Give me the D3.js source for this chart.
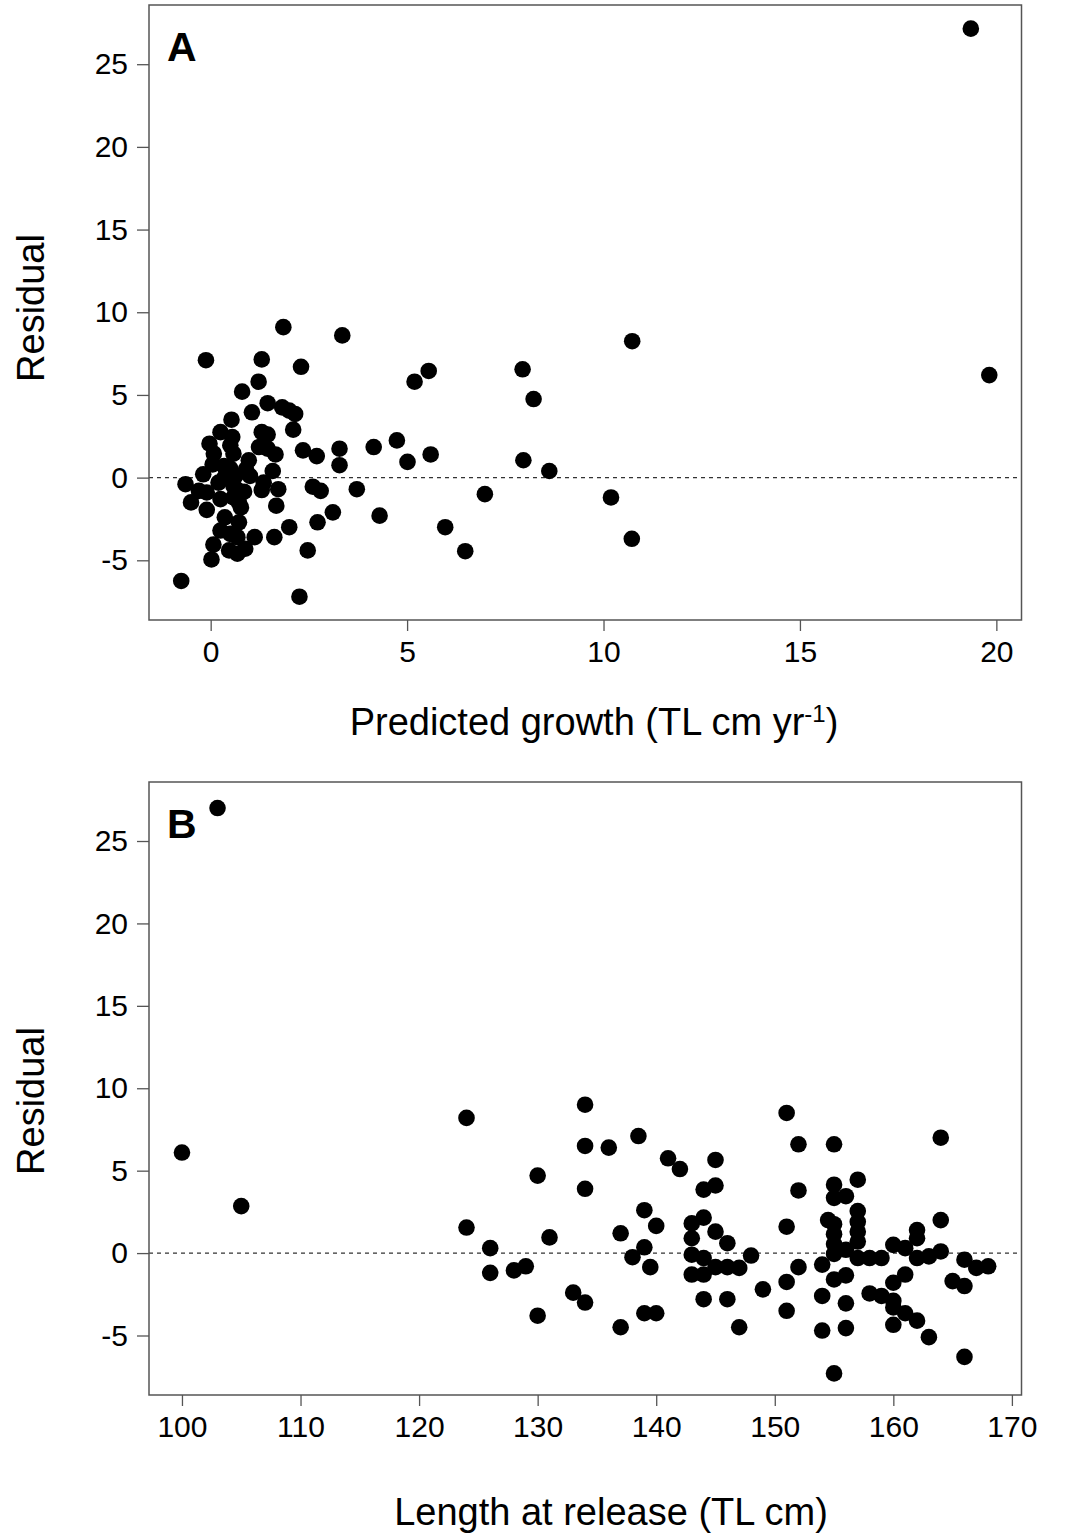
<!DOCTYPE html>
<html>
<head>
<meta charset="utf-8">
<script src="https://cdn.jsdelivr.net/npm/d3@7"></script>
<style>
  html, body { margin: 0; padding: 0; background: #fff; }
  svg { display: block; font-family: "Liberation Sans", Arial, Helvetica, sans-serif; }
</style>
</head>
<body>
<svg id="chart" width="1065" height="1534"></svg>
<script>
// ---------- DATA ----------
// Panel A: predicted growth (x) vs residual (y)
const growthA = [1.85,3.35,-0.12,1.3,2.3,1.22,0.8,1.45,1.05,1.82,2.0,2.15,0.53,2.1,0.25,0.55,1.3,1.45,-0.03,0.5,
  1.23,1.45,1.65,2.35,2.7,3.28,3.28,0.08,0.58,0.97,1.58,0.05,0.34,-0.19,0.2,0.63,1.0,1.35,-0.64,-0.3,
  -0.1,0.65,0.85,1.3,1.72,-0.5,-0.1,0.25,0.72,0.77,1.67,0.36,0.72,0.25,0.5,0.68,1.12,1.62,2.0,0.07,
  0.47,0.68,0.88,0.02,-0.75,2.26,2.47,2.72,3.11,2.6,2.8,5.19,5.55,7.94,8.22,10.73,4.15,4.74,5.01,5.6,
  7.96,8.62,3.72,6.98,10.19,4.3,5.97,6.48,10.72,19.35,19.82,0.5,0.58,0.58,0.9,0.35];
const residA = [9.1,8.6,7.1,7.15,6.7,5.8,5.2,4.5,3.95,4.25,4.05,3.85,3.5,2.9,2.75,2.45,2.75,2.6,2.05,1.95,
  1.85,1.75,1.4,1.65,1.3,1.75,0.75,1.45,1.45,1.05,0.4,0.8,0.7,0.2,-0.3,0.1,0.1,-0.3,-0.4,-0.8,
  -0.9,-0.7,-0.85,-0.75,-0.7,-1.5,-1.95,-1.3,-1.5,-1.8,-1.7,-2.4,-2.7,-3.2,-3.4,-3.6,-3.6,-3.6,-3.0,-4.05,
  -4.4,-4.6,-4.3,-4.95,-6.25,-7.2,-4.4,-2.7,-2.1,-0.55,-0.8,5.8,6.45,6.55,4.75,8.25,1.85,2.25,0.95,1.4,
  1.05,0.4,-0.7,-1.0,-1.2,-2.3,-3.0,-4.45,-3.7,27.15,6.2,0.55,-0.5,-1.2,0.5,0.0];

// Panel B: length at release (x) vs residual (y)
const lengthB = [100,103,105,124,124,126,126,128,129,130,130,131,133,134,134,134,134,136,137,137,
  138,138.5,139,139,139.5,139,140,140,141,142,143,143,143,143,144,144,144,144,144,145,
  145,145,145,146,146,146,147,147,148,149,151,151,151,151,152,152,152,154,154,154,
  154.5,155,155,155,155,155,155,155,155,155,156,156,156,156,156,157,157,157,157,157,
  157,158,158,159,159,160,160,160,160,160,161,161,161,162,162,162,162,163,163,164,
  164,164,165,166,166,166,167,168];
const residB = [6.1,27.0,2.85,8.2,1.55,0.3,-1.2,-1.05,-0.8,4.7,-3.8,0.95,-2.4,9.0,6.5,3.9,-3.0,6.4,1.2,-4.5,
  -0.25,7.1,2.6,0.35,-0.85,-3.65,-3.65,1.65,5.75,5.1,1.8,0.9,-0.1,-1.3,3.85,2.15,-0.3,-1.3,-2.8,5.65,
  4.1,1.3,-0.85,0.6,-0.85,-2.8,-0.9,-4.5,-0.15,-2.2,8.5,1.6,-1.75,-3.5,6.6,3.8,-0.85,-0.7,-2.6,-4.7,
  2.0,6.6,4.15,3.35,1.75,1.15,0.55,-0.05,-1.6,-7.3,3.45,0.2,-1.35,-3.05,-4.55,4.45,2.55,1.9,1.3,0.7,
  -0.3,-0.3,-2.45,-0.3,-2.6,0.5,-1.8,-2.9,-3.3,-4.35,0.3,-1.3,-3.65,1.4,0.9,-0.3,-4.1,-0.2,-5.1,7.0,
  2.0,0.1,-1.7,-0.4,-2.0,-6.3,-0.9,-0.8];

const yTicks = [-5, 0, 5, 10, 15, 20, 25];
const xTicksA = [0, 5, 10, 15, 20];
const xTicksB = [100, 110, 120, 130, 140, 150, 160, 170];
const panelLabels = ["A", "B"];
const yTitle = "Residual";
const xTitleB = "Length at release (TL cm)";

// ---------- DRAW ----------
const svg = d3.select("#chart");
const boxL = 149, boxR = 1021.5;

const panels = [
  { label: panelLabels[0], top: 5, bottom: 620, xs: growthA, ys: residA,
    xDomain: [-1.57, 20.64], xTicks: xTicksA, titleX: 594, titleY: 735, yTitleY: 308 },
  { label: panelLabels[1], top: 782, bottom: 1395, xs: lengthB, ys: residB,
    xDomain: [97.22, 170.81], xTicks: xTicksB, titleX: 611, titleY: 1525, yTitleY: 1101 }
];

panels.forEach((p, i) => {
  const x = d3.scaleLinear().domain(p.xDomain).range([boxL, boxR]);
  const y = d3.scaleLinear().domain([-8.61, 28.58]).range([p.bottom, p.top]);
  const g = svg.append("g");

  // zero reference line
  g.append("line")
    .attr("x1", boxL).attr("x2", boxR)
    .attr("y1", y(0)).attr("y2", y(0))
    .attr("stroke", "#333").attr("stroke-width", 1.1)
    .attr("stroke-dasharray", "4,4");

  // points
  g.append("g").selectAll("circle")
    .data(p.xs.map((v, k) => [v, p.ys[k]]))
    .join("circle")
    .attr("cx", d => x(d[0]))
    .attr("cy", d => y(d[1]))
    .attr("r", 8.3)
    .attr("fill", "#000");

  // box
  g.append("rect")
    .attr("x", boxL).attr("y", p.top)
    .attr("width", boxR - boxL).attr("height", p.bottom - p.top)
    .attr("fill", "none").attr("stroke", "#555").attr("stroke-width", 1.5);

  // axes
  const ya = g.append("g").attr("transform", `translate(${boxL},0)`)
    .call(d3.axisLeft(y).tickValues(yTicks).tickSize(12).tickPadding(9).tickFormat(d => String(d)));
  const xa = g.append("g").attr("transform", `translate(0,${p.bottom})`)
    .call(d3.axisBottom(x).tickValues(p.xTicks).tickSize(11).tickPadding(10).tickFormat(d => String(d)));
  [ya, xa].forEach(a => {
    a.select(".domain").remove();
    a.selectAll(".tick line").attr("stroke", "#555").attr("stroke-width", 1.3);
    a.selectAll(".tick text").attr("fill", "#000")
      .style("font-size", "30px")
      .style("font-family", "'Liberation Sans', Arial, sans-serif");
  });

  // panel letter
  g.append("text")
    .attr("x", 167).attr("y", p.top + 56)
    .attr("font-size", 41).attr("font-weight", "bold")
    .text(p.label);

  // y title
  g.append("text")
    .attr("transform", `translate(44,${p.yTitleY}) rotate(-90)`)
    .attr("text-anchor", "middle")
    .attr("font-size", 38)
    .text(yTitle);

  // x title
  const t = g.append("text")
    .attr("x", p.titleX).attr("y", p.titleY)
    .attr("text-anchor", "middle")
    .attr("font-size", 38);
  if (i === 0) {
    t.append("tspan").text("Predicted growth (TL cm yr");
    t.append("tspan").attr("font-size", 24).attr("dy", -13).text("-1");
    t.append("tspan").attr("dy", 13).text(")");
  } else {
    t.text(xTitleB);
  }
});
</script>
</body>
</html>
